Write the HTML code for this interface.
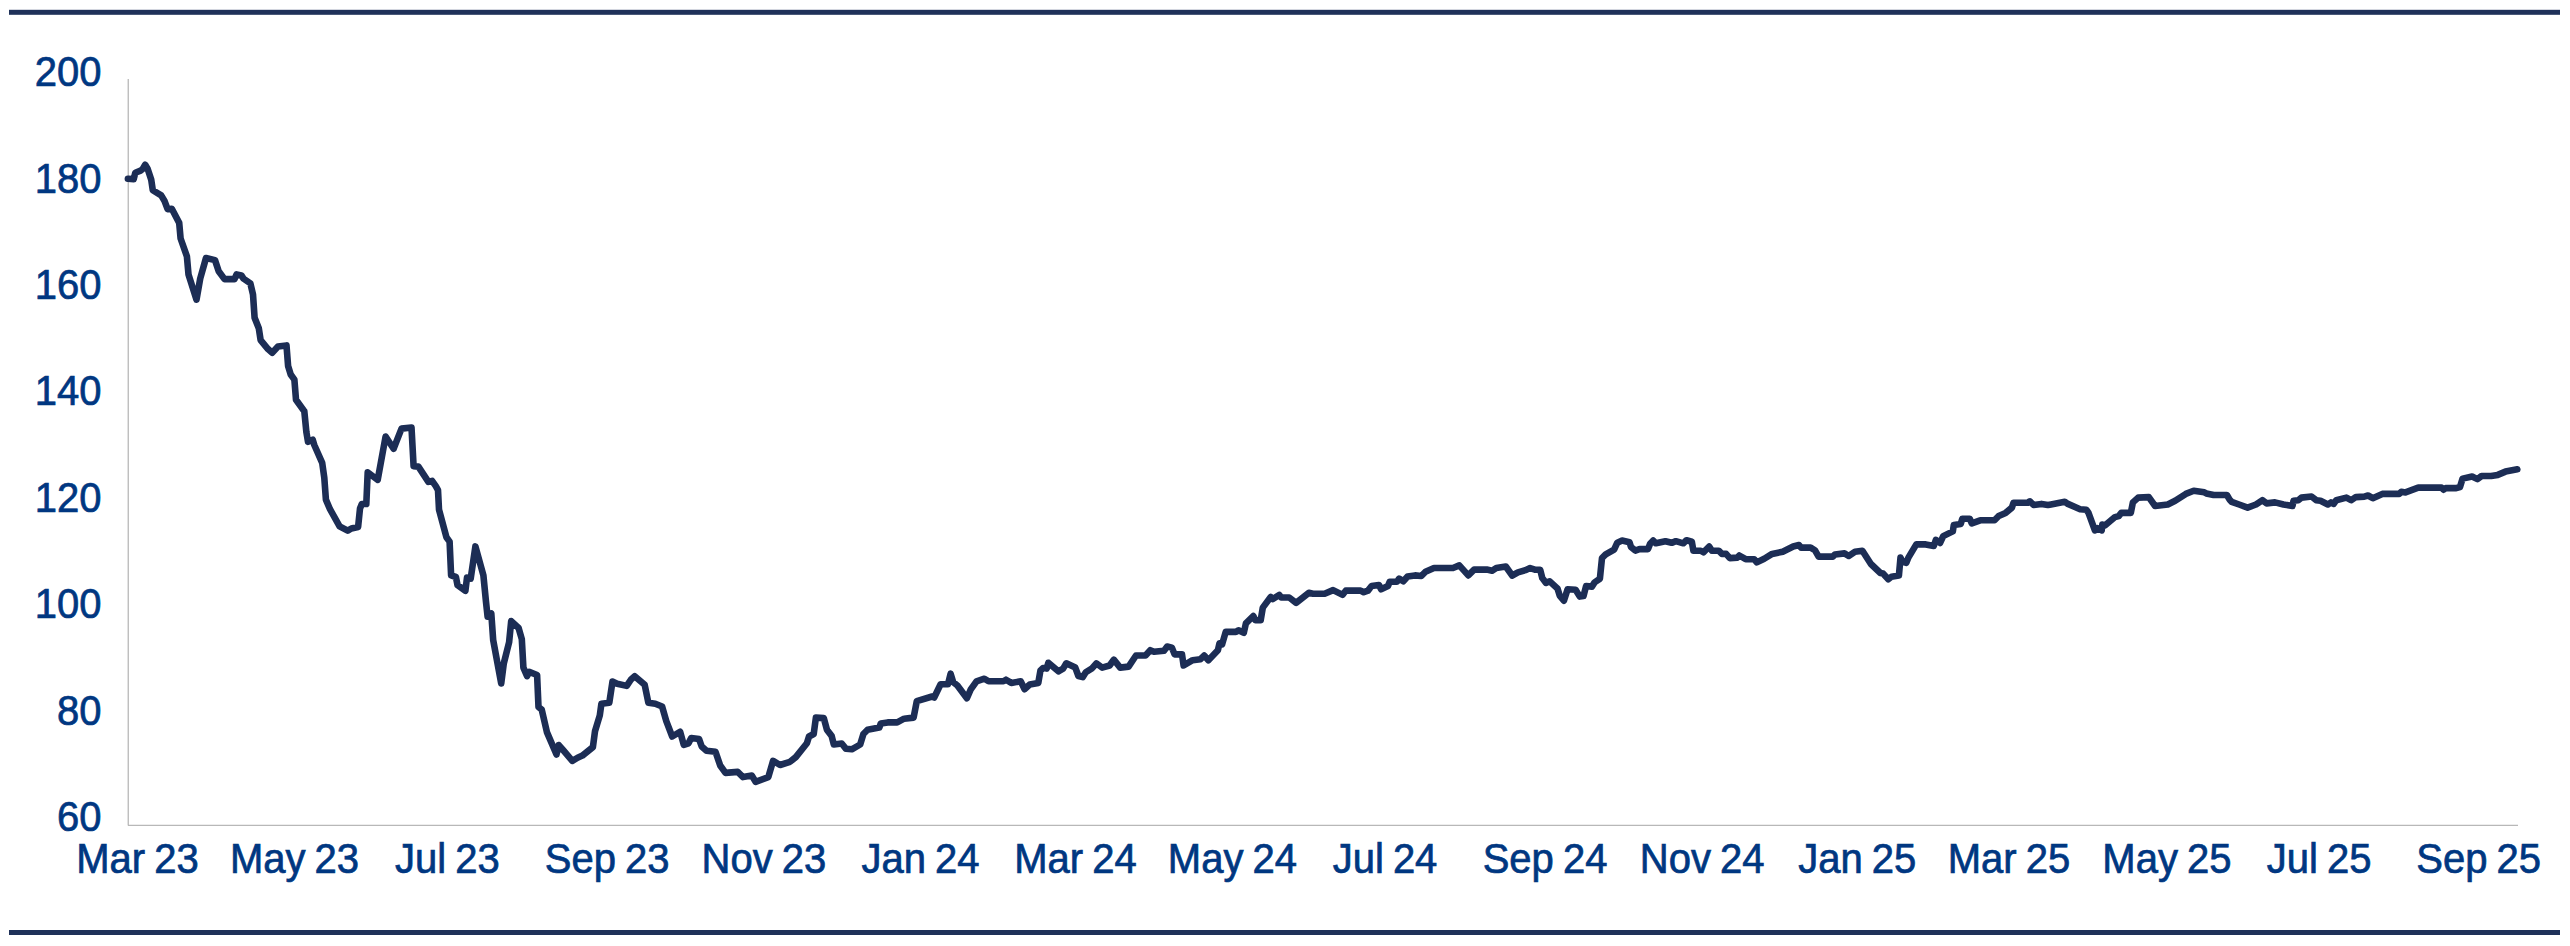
<!DOCTYPE html>
<html><head><meta charset="utf-8"><style>
html,body{margin:0;padding:0;background:#fff;width:2570px;height:946px;overflow:hidden}
svg{display:block}
text{font-family:"Liberation Sans",sans-serif;font-size:40px;fill:#003781;stroke:#003781;stroke-width:0.7px;word-spacing:-2px}
</style></head><body>
<svg width="2570" height="946" viewBox="0 0 2570 946">
<rect x="9" y="9.8" width="2551" height="5" fill="#1f3159"/>
<rect x="9" y="930" width="2551" height="5" fill="#1f3159"/>
<line x1="128.25" y1="79" x2="128.25" y2="825.5" stroke="#b8b8b8" stroke-width="1.3"/>
<line x1="128" y1="825.3" x2="2518" y2="825.3" stroke="#b8b8b8" stroke-width="1.3"/>
<text transform="translate(101.5 86.1) scale(1 1.04)" text-anchor="end">200</text>
<text transform="translate(101.5 192.5) scale(1 1.04)" text-anchor="end">180</text>
<text transform="translate(101.5 299.0) scale(1 1.04)" text-anchor="end">160</text>
<text transform="translate(101.5 405.4) scale(1 1.04)" text-anchor="end">140</text>
<text transform="translate(101.5 511.9) scale(1 1.04)" text-anchor="end">120</text>
<text transform="translate(101.5 618.3) scale(1 1.04)" text-anchor="end">100</text>
<text transform="translate(101.5 724.7) scale(1 1.04)" text-anchor="end">80</text>
<text transform="translate(101.5 831.2) scale(1 1.04)" text-anchor="end">60</text>
<text transform="translate(137.5 873.0) scale(1 1.04)" text-anchor="middle">Mar 23</text>
<text transform="translate(294.5 873.0) scale(1 1.04)" text-anchor="middle">May 23</text>
<text transform="translate(447.3 873.0) scale(1 1.04)" text-anchor="middle">Jul 23</text>
<text transform="translate(607.1 873.0) scale(1 1.04)" text-anchor="middle">Sep 23</text>
<text transform="translate(763.9 873.0) scale(1 1.04)" text-anchor="middle">Nov 23</text>
<text transform="translate(920.5 873.0) scale(1 1.04)" text-anchor="middle">Jan 24</text>
<text transform="translate(1075.5 873.0) scale(1 1.04)" text-anchor="middle">Mar 24</text>
<text transform="translate(1232.4 873.0) scale(1 1.04)" text-anchor="middle">May 24</text>
<text transform="translate(1385.0 873.0) scale(1 1.04)" text-anchor="middle">Jul 24</text>
<text transform="translate(1545.0 873.0) scale(1 1.04)" text-anchor="middle">Sep 24</text>
<text transform="translate(1702.2 873.0) scale(1 1.04)" text-anchor="middle">Nov 24</text>
<text transform="translate(1857.3 873.0) scale(1 1.04)" text-anchor="middle">Jan 25</text>
<text transform="translate(2009.0 873.0) scale(1 1.04)" text-anchor="middle">Mar 25</text>
<text transform="translate(2166.9 873.0) scale(1 1.04)" text-anchor="middle">May 25</text>
<text transform="translate(2319.2 873.0) scale(1 1.04)" text-anchor="middle">Jul 25</text>
<text transform="translate(2478.6 873.0) scale(1 1.04)" text-anchor="middle">Sep 25</text>
<path d="M127.9 178.7 L133.7 179.1 L135.3 172.7 L140.6 170.6 L142.7 169.0 L145.2 164.8 L147.7 169.0 L151.2 179.6 L152.8 190.2 L161.2 195.4 L164.4 200.7 L167.6 209.2 L171.8 208.7 L179.2 222.9 L180.6 238.5 L186.9 256.4 L188.5 274.4 L196.5 299.7 L200.2 278.6 L206.0 258.0 L215.0 260.1 L218.7 271.2 L224.5 279.1 L234.5 279.1 L236.6 274.4 L241.4 275.4 L243.5 278.6 L250.4 283.4 L253.0 294.5 L254.6 317.7 L258.8 328.3 L260.6 340.1 L268.0 349.1 L272.2 352.8 L278.0 346.5 L286.5 345.4 L288.1 366.0 L290.7 374.5 L294.4 379.7 L296.0 399.8 L303.4 410.0 L304.3 411.1 L306.4 432.3 L308.0 441.8 L312.7 439.7 L314.3 445.0 L322.2 462.9 L324.3 477.7 L325.9 499.6 L330.0 509.2 L339.6 526.3 L347.7 530.7 L351.4 528.5 L358.1 527.0 L360.0 508.5 L361.8 504.0 L366.3 504.0 L367.7 472.4 L377.7 479.8 L385.6 436.5 L393.6 448.7 L401.5 428.6 L411.5 427.5 L413.6 466.1 L418.4 466.6 L428.4 481.9 L432.1 480.9 L435.8 486.2 L438.0 490.2 L439.0 509.7 L446.4 537.2 L449.6 541.6 L451.1 575.4 L455.9 577.0 L457.5 585.0 L465.4 590.8 L467.0 577.6 L470.7 578.6 L475.4 546.4 L483.4 575.4 L486.0 601.9 L487.6 616.7 L491.3 613.5 L493.2 640.2 L501.2 683.5 L503.8 663.4 L509.1 642.3 L511.2 621.1 L518.6 628.0 L521.8 639.1 L523.4 667.6 L527.1 676.1 L529.2 671.9 L537.1 675.0 L538.5 707.0 L541.7 709.6 L547.0 732.4 L556.5 754.5 L558.6 745.0 L563.3 750.3 L572.3 760.9 L577.6 757.7 L582.4 755.6 L592.9 747.1 L595.0 731.3 L599.8 715.4 L601.4 703.8 L609.3 702.8 L612.5 681.6 L617.2 683.7 L626.7 685.9 L631.0 679.5 L634.7 676.3 L644.7 684.8 L648.4 702.8 L655.3 703.8 L662.1 706.5 L666.3 721.1 L672.2 736.5 L680.1 731.7 L683.8 744.9 L688.5 743.3 L691.2 738.0 L699.1 739.1 L701.7 746.5 L706.5 750.7 L715.5 751.8 L720.2 765.5 L725.5 772.9 L737.7 771.9 L743.0 777.1 L751.9 775.6 L755.6 781.9 L768.3 777.1 L773.1 760.8 L780.0 765.0 L790.0 761.8 L795.8 757.1 L806.9 743.3 L809.0 736.5 L813.7 734.0 L815.9 717.6 L823.8 718.1 L826.9 729.7 L831.7 736.1 L833.8 744.5 L841.7 743.5 L846.0 748.8 L851.8 749.3 L860.2 744.5 L863.4 734.0 L867.6 729.7 L879.3 727.6 L880.8 723.4 L887.7 722.4 L897.2 722.4 L904.1 718.7 L913.6 717.6 L916.8 701.2 L932.1 696.5 L934.2 697.5 L940.6 684.3 L948.0 684.3 L950.6 673.7 L953.2 682.2 L957.4 685.5 L966.9 698.2 L970.6 689.7 L976.5 681.3 L984.4 678.7 L988.6 681.3 L1003.4 681.3 L1006.0 679.7 L1011.3 682.9 L1020.8 681.3 L1024.5 689.2 L1029.8 684.5 L1038.3 682.9 L1040.4 670.7 L1043.0 668.1 L1046.7 668.6 L1048.3 662.8 L1058.4 671.3 L1063.1 668.6 L1066.3 663.3 L1075.3 667.6 L1078.4 676.0 L1082.7 677.1 L1085.8 672.3 L1092.2 668.2 L1096.4 663.4 L1102.2 667.6 L1109.6 665.5 L1113.8 659.7 L1120.2 667.6 L1128.6 666.6 L1136.0 655.5 L1145.5 655.5 L1150.3 650.2 L1154.0 651.8 L1164.0 650.7 L1167.2 646.5 L1171.9 647.6 L1174.6 654.4 L1182.0 654.4 L1183.6 665.5 L1192.6 660.2 L1200.5 659.2 L1204.2 655.5 L1208.4 660.2 L1217.9 650.2 L1219.5 643.3 L1222.1 644.4 L1225.8 631.7 L1235.9 631.9 L1238.5 630.3 L1243.8 632.9 L1245.9 623.4 L1253.3 616.0 L1255.4 620.2 L1260.7 620.2 L1262.8 607.6 L1270.7 597.0 L1272.8 599.1 L1279.2 594.9 L1281.3 597.5 L1289.2 597.5 L1296.1 602.8 L1308.8 592.8 L1313.0 593.8 L1324.6 593.8 L1333.1 590.1 L1342.6 594.9 L1345.8 590.6 L1360.6 590.6 L1363.7 592.2 L1368.0 590.6 L1371.6 586.0 L1379.0 585.0 L1381.1 589.2 L1388.0 586.0 L1389.6 581.8 L1397.0 581.8 L1399.1 578.6 L1403.3 581.3 L1407.6 576.5 L1415.0 575.4 L1421.3 576.0 L1425.5 571.7 L1434.0 568.0 L1453.0 568.0 L1459.3 565.4 L1468.3 575.4 L1474.1 569.6 L1486.8 569.6 L1492.1 570.7 L1496.3 568.0 L1505.8 566.5 L1512.2 575.5 L1518.0 572.3 L1525.4 570.2 L1530.1 568.1 L1534.9 569.7 L1540.2 569.7 L1542.3 578.1 L1546.0 582.9 L1549.7 581.3 L1557.6 588.7 L1559.7 595.6 L1563.9 600.8 L1567.6 589.2 L1575.6 589.7 L1579.8 596.6 L1583.5 596.1 L1586.1 586.0 L1591.9 586.6 L1594.6 582.4 L1599.9 578.7 L1602.0 558.0 L1605.7 554.3 L1614.1 549.6 L1617.3 542.7 L1622.1 540.6 L1629.5 542.2 L1631.0 546.9 L1635.3 550.6 L1639.5 549.1 L1648.0 549.1 L1650.1 543.8 L1653.2 540.6 L1655.9 543.3 L1665.4 541.2 L1671.7 542.8 L1675.9 541.2 L1683.3 543.3 L1686.5 540.2 L1691.8 541.7 L1693.4 550.7 L1700.8 550.7 L1703.4 552.3 L1709.2 546.5 L1711.9 550.7 L1718.7 550.7 L1721.9 553.9 L1726.1 553.9 L1729.8 558.1 L1737.2 557.6 L1739.3 555.5 L1745.7 559.2 L1754.1 559.2 L1756.8 562.4 L1764.2 558.7 L1772.1 553.9 L1782.7 551.8 L1793.2 546.5 L1799.0 545.0 L1801.1 547.6 L1810.6 547.6 L1814.9 550.2 L1818.6 556.6 L1832.8 556.6 L1835.0 554.5 L1844.5 553.4 L1848.7 556.0 L1855.0 551.8 L1862.4 550.8 L1870.9 564.0 L1880.4 573.0 L1883.0 573.5 L1888.3 579.3 L1891.5 576.7 L1898.9 575.6 L1900.5 557.6 L1902.6 561.9 L1906.3 562.9 L1908.4 557.6 L1916.3 544.4 L1925.8 544.4 L1933.8 546.0 L1935.9 539.8 L1940.1 543.0 L1943.2 536.1 L1952.8 531.4 L1953.8 525.0 L1960.7 524.0 L1962.3 518.7 L1969.7 518.7 L1971.8 523.4 L1980.2 520.3 L1994.5 520.3 L1998.7 516.0 L2005.6 512.9 L2011.9 507.6 L2013.5 502.8 L2027.8 502.8 L2029.9 501.3 L2033.6 505.0 L2041.5 503.9 L2047.9 505.0 L2051.0 504.4 L2064.8 501.8 L2067.9 503.9 L2080.1 509.2 L2086.4 509.7 L2088.5 512.9 L2094.9 530.4 L2097.5 528.2 L2101.7 530.4 L2102.3 524.5 L2104.9 525.6 L2115.0 517.1 L2118.7 516.1 L2121.3 512.9 L2130.8 512.9 L2132.9 502.4 L2138.2 497.6 L2148.8 497.1 L2155.1 506.0 L2167.8 504.5 L2175.2 500.8 L2185.8 493.9 L2193.7 490.7 L2204.3 492.3 L2206.3 493.4 L2213.7 495.0 L2226.9 495.0 L2229.6 499.7 L2231.7 501.8 L2239.1 504.5 L2247.6 507.6 L2256.0 504.5 L2262.4 500.2 L2266.6 503.4 L2275.0 502.4 L2283.5 504.5 L2292.5 506.0 L2293.5 500.8 L2298.3 500.2 L2301.5 497.6 L2311.5 496.5 L2316.2 500.2 L2320.5 500.8 L2327.9 504.5 L2331.0 502.4 L2333.7 503.9 L2336.3 500.2 L2346.4 497.6 L2351.1 500.2 L2355.9 497.1 L2364.3 496.6 L2368.0 495.5 L2372.8 498.2 L2382.3 493.9 L2399.2 493.9 L2401.3 491.8 L2405.5 492.4 L2418.2 487.6 L2441.5 487.6 L2443.6 489.7 L2445.7 488.1 L2456.2 488.1 L2460.0 487.0 L2462.6 478.6 L2472.1 476.5 L2477.4 479.1 L2481.6 476.0 L2491.1 476.0 L2497.7 474.9 L2505.5 471.6 L2513.4 470.0 L2517.3 469.3" fill="none" stroke="#1c2d55" stroke-width="6.6" stroke-linejoin="round" stroke-linecap="round"/>
</svg>
</body></html>
